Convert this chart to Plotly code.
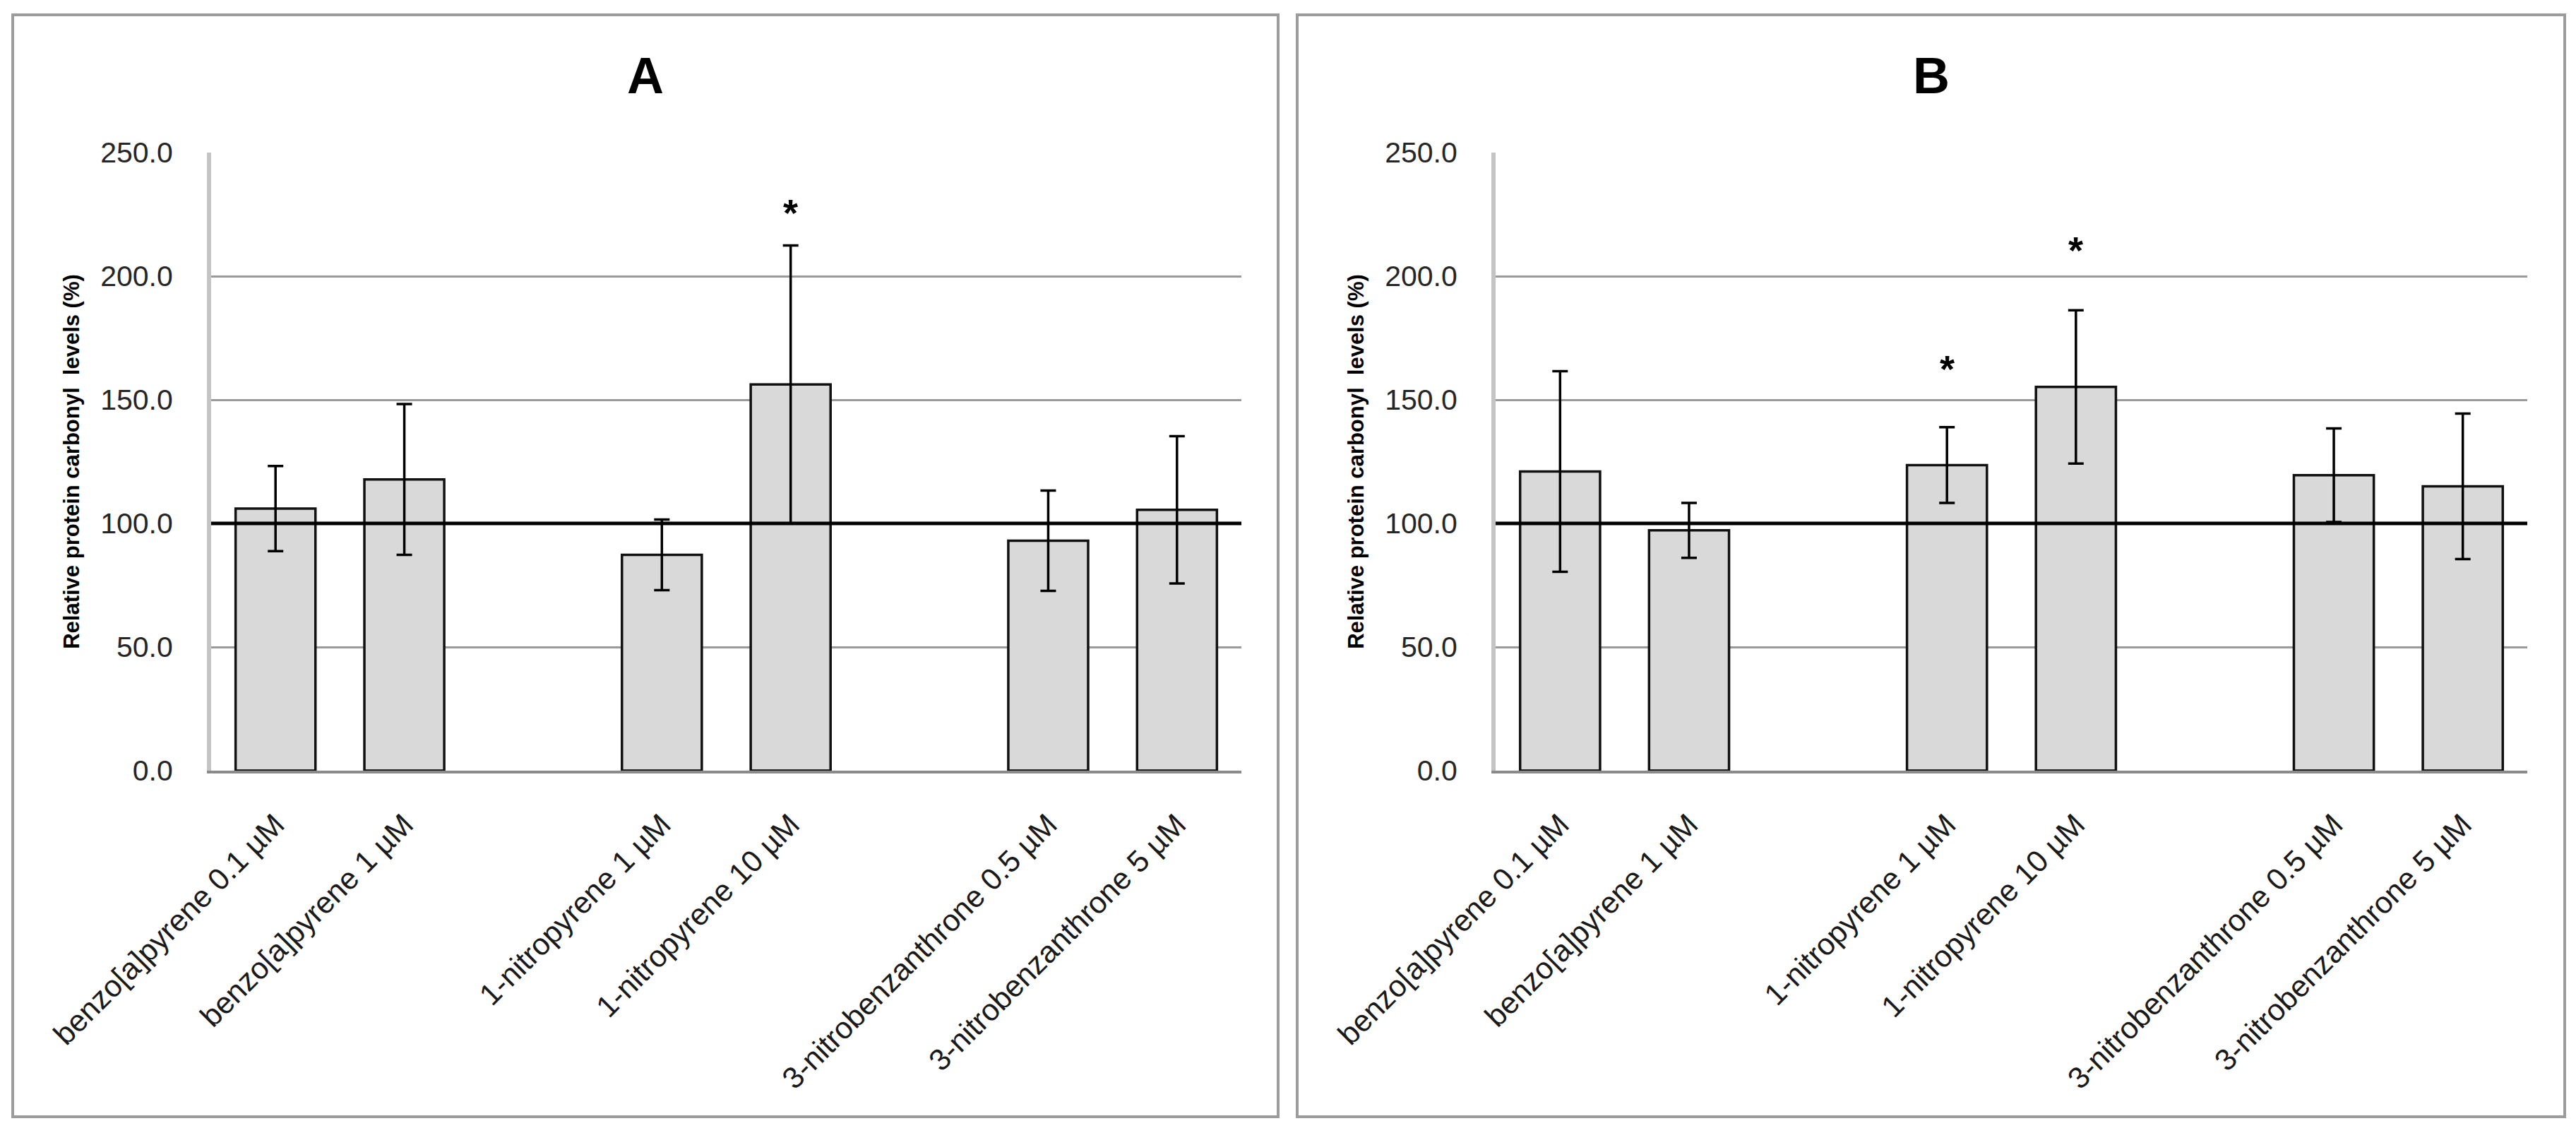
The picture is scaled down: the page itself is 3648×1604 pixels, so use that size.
import plotly.graph_objects as go

# ---------------- data ----------------
labels = ["benzo[a]pyrene 0.1 µM", "benzo[a]pyrene 1 µM",
          "1-nitropyrene 1 µM", "1-nitropyrene 10 µM",
          "3-nitrobenzanthrone 0.5 µM", "3-nitrobenzanthrone 5 µM"]
group_index = [0, 0, 1, 1, 2, 2]   # compound group
dose_index = [0, 1, 0, 1, 0, 1]    # dose within group

a_values = [106.0, 117.8, 87.3, 156.2, 93.0, 105.5]
a_errors = [17.2, 30.5, 14.3, 56.2, 20.3, 29.8]
a_star = [None, None, None, 228, None, None]

b_values = [121.0, 97.2, 123.6, 155.2, 119.5, 115.0]
b_errors = [40.6, 11.1, 15.3, 31.0, 18.9, 29.4]
b_star = [None, None, 165, 213, None, None]

control_level = 100
y_ticks = [0, 50, 100, 150, 200, 250]
panel_titles = ["A", "B"]
y_title = "Relative protein carbonyl  levels (%)"

# ---------------- styling ----------------
W, H = 3648, 1604
FONT = "Liberation Sans"
bar_fill = "#d9d9d9"
bar_edge = "#111111"
grid_col = "#9a9a9a"

slots_per_group = 3
positions = [g * slots_per_group + d for g, d in zip(group_index, dose_index)]
n_slots = max(positions) + 1

def px_x(v):
    return v / W

def px_y(v):
    return 1 - v / H

panels = [
    dict(values=a_values, errors=a_errors, stars=a_star, title=panel_titles[0],
         xdom=[px_x(299), px_x(1758)], box=[18, 1810], xa="x", ya="y"),
    dict(values=b_values, errors=b_errors, stars=b_star, title=panel_titles[1],
         xdom=[px_x(2118), px_x(3579)], box=[1837, 3632], xa="x2", ya="y2"),
]
ydom = [px_y(1091), px_y(216)]

fig = go.Figure()
annotations = []
shapes = []

for i, p in enumerate(panels):
    fig.add_trace(go.Bar(
        x=positions, y=p["values"], xaxis=p["xa"], yaxis=p["ya"],
        width=0.62,
        marker=dict(color=bar_fill, line=dict(color=bar_edge, width=3.5)),
        error_y=dict(type="data", array=p["errors"], visible=True,
                     color="#000000", thickness=3.5, width=11),
        showlegend=False, hoverinfo="skip",
    ))
    # significance stars
    for pos, s in zip(positions, p["stars"]):
        if s is not None:
            annotations.append(dict(
                x=pos, y=s, xref=p["xa"], yref=p["ya"], text="<b>*</b>",
                showarrow=False, font=dict(family=FONT, size=54, color="#000"),
                xanchor="center", yanchor="middle", yshift=-8))
    # panel title
    annotations.append(dict(
        x=px_x((p["box"][0] + p["box"][1]) / 2), y=px_y(107), xref="paper", yref="paper",
        text="<b>%s</b>" % p["title"], showarrow=False,
        font=dict(family=FONT, size=72, color="#000"),
        xanchor="center", yanchor="middle"))
    # panel border
    shapes.append(dict(type="rect", xref="paper", yref="paper",
                       x0=px_x(p["box"][0]), x1=px_x(p["box"][1]),
                       y0=px_y(1581), y1=px_y(21),
                       line=dict(color="#9c9c9c", width=4), fillcolor="rgba(0,0,0,0)",
                       layer="below"))
    # control reference line
    shapes.append(dict(type="line", xref=p["xa"] + " domain", yref=p["ya"],
                       x0=0, x1=1, y0=control_level, y1=control_level,
                       line=dict(color="#000000", width=5), layer="above"))

def xaxis_cfg(dom, anchor):
    return dict(domain=dom, anchor=anchor, range=[-0.5, n_slots - 0.5],
                tickmode="array", tickvals=positions, ticktext=labels,
                tickangle=-45, ticks="", showgrid=False, zeroline=False,
                showline=True, linecolor="#8a8a8a", linewidth=3.5,
                tickfont=dict(family=FONT, size=43, color="#1a1a1a"),
                ticklabelstandoff=30, automargin=False, fixedrange=True)

def yaxis_cfg(anchor):
    return dict(domain=ydom, anchor=anchor, range=[0, 250],
                tickmode="array", tickvals=y_ticks,
                ticktext=["%.1f" % t for t in y_ticks],
                ticks="", showgrid=True, gridcolor=grid_col, gridwidth=3,
                zeroline=False, showline=True, linecolor="#c4c4c4", linewidth=6,
                tickfont=dict(family=FONT, size=41, color="#262626"),
                ticklabelstandoff=40, automargin=False,
                title=dict(text="<b>%s</b>" % y_title, standoff=22,
                           font=dict(family=FONT, size=31, color="#000")),
                fixedrange=True)

fig.update_layout(
    template="none",
    width=W, height=H,
    margin=dict(l=0, r=0, t=0, b=0, autoexpand=False),
    paper_bgcolor="white", plot_bgcolor="white",
    xaxis=xaxis_cfg(panels[0]["xdom"], "y"),
    yaxis=yaxis_cfg("x"),
    xaxis2=xaxis_cfg(panels[1]["xdom"], "y2"),
    yaxis2=yaxis_cfg("x2"),
    annotations=annotations, shapes=shapes,
    bargap=0.38,
)

fig.write_html("out.html", config={"displayModeBar": False},
               post_script="document.body.style.margin='0';document.body.style.overflow='hidden';")
